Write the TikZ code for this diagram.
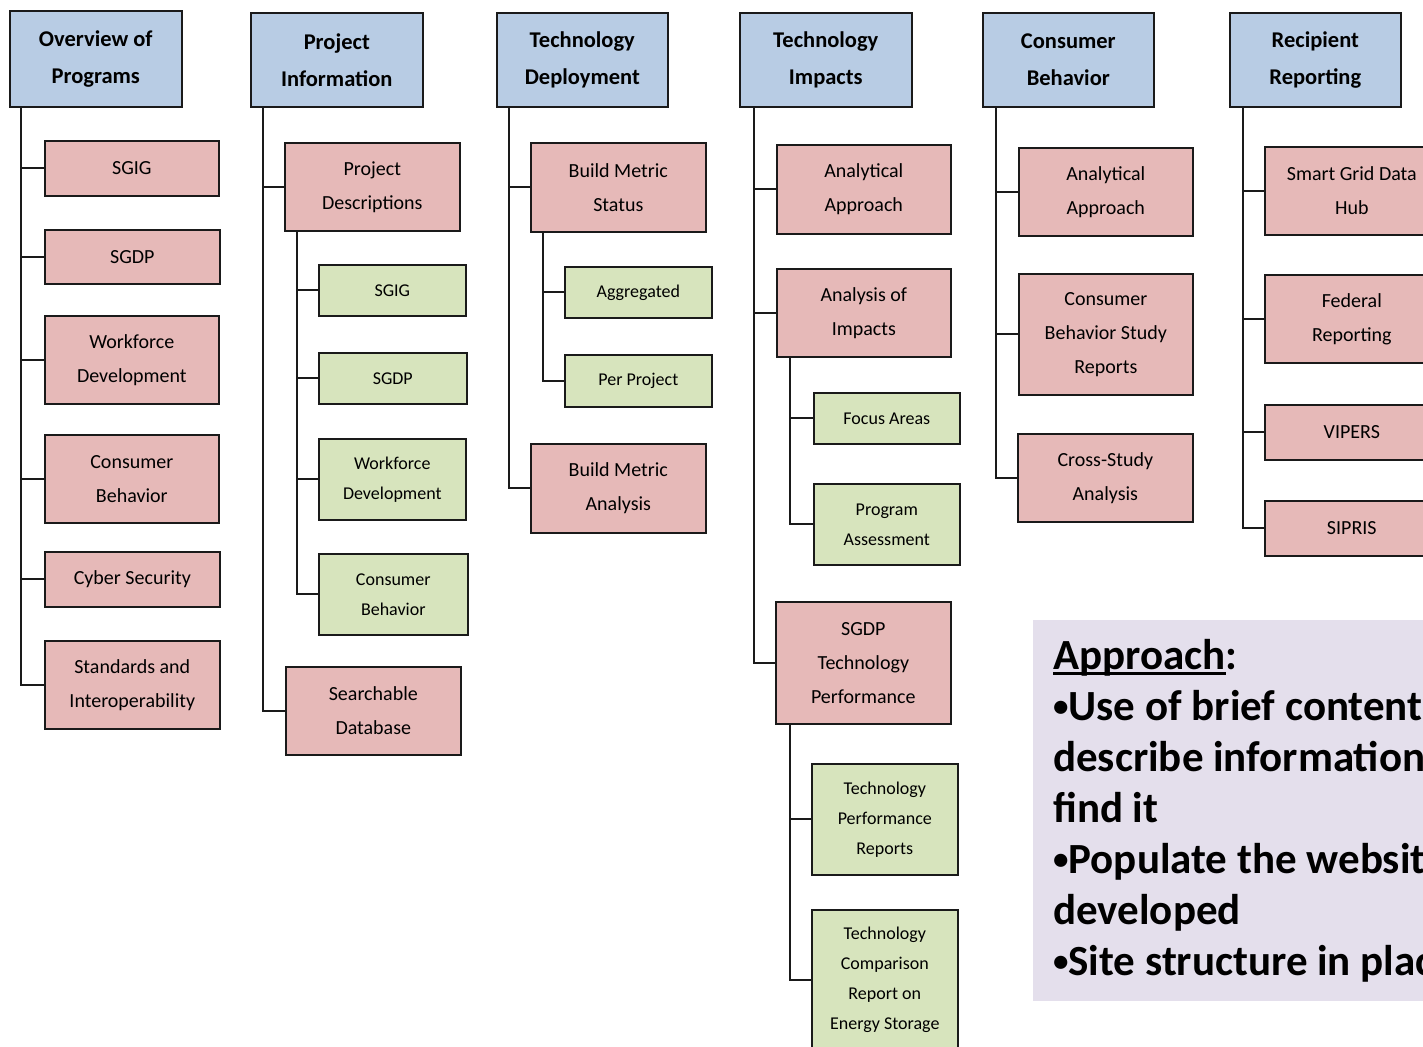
\documentclass[tikz,border=0pt]{standalone}
\usepackage{fontspec}
\setmainfont{Carlito}
\definecolor{hdrblue}{HTML}{B8CCE4}
\definecolor{pinkfill}{HTML}{E6B9B8}
\definecolor{greenfill}{HTML}{D7E4BD}
\definecolor{lavender}{HTML}{E4DFEC}
\definecolor{edge}{HTML}{1A1A1A}
% box: style, name, left x, top y, width, height, text
\newcommand\bx[7]{\node[#1,minimum width=#5pt,minimum height=#6pt] (#2) at (#3,#4) {#7};}
% underlined word with a fixed rule under the baseline
\newcommand\ulword[1]{\setbox0\hbox{#1}\rlap{\rule[-6pt]{\wd0}{3pt}}\box0}
% small bullet for the panel list
\newcommand\pbul{{\fontsize{31}{31}\selectfont\raisebox{4pt}{•}}}
\tikzset{
  box/.style={draw=edge, line width=1.6pt, anchor=north west, inner sep=0pt, align=center,
    font=\fontsize{20}{34}\selectfont},
  hdr/.style={box, fill=hdrblue, font=\bfseries\fontsize{22.5}{37}\selectfont},
  pbox/.style={box, fill=pinkfill},
  gbox/.style={box, fill=greenfill, font=\fontsize{18}{30}\selectfont},
  link/.style={draw=edge, line width=1.8pt},
  aptext/.style={anchor=base west, inner sep=0pt, font=\bfseries\fontsize{43}{51}\selectfont}
}
\begin{document}
\begin{tikzpicture}[x=1pt,y=-1pt]
\useasboundingbox (0,0) rectangle (1423,1046);
\clip (0,0) rectangle (1423,1046);

% Overview of Programs
\bx{hdr}{h1}{9}{10}{172}{96}{Overview of\\Programs}
\bx{pbox}{a1}{44}{140}{174}{55}{SGIG}
\bx{pbox}{a2}{44}{229}{175}{54}{SGDP}
\bx{pbox}{a3}{44}{315}{174}{88}{Workforce\\Development}
\bx{pbox}{a4}{44}{434}{174}{88}{Consumer\\Behavior}
\bx{pbox}{a5}{44}{551}{175}{55}{Cyber Security}
\bx{pbox}{a6}{44}{640}{175}{88}{Standards and\\Interoperability}
\foreach \c in {a1,a2,a3,a4,a5,a6}
  \draw[link] ([xshift=12pt]h1.south west) |- (\c.west);

% Project Information
\bx{hdr}{h2}{250}{12}{172}{94}{Project\\Information}
\bx{pbox}{b1}{284}{142}{175}{88}{Project\\Descriptions}
\bx{gbox}{b11}{318}{264}{147}{51}{SGIG}
\bx{gbox}{b12}{318}{352}{148}{51}{SGDP}
\bx{gbox}{b13}{318}{438}{147}{81}{Workforce\\Development}
\bx{gbox}{b14}{318}{553}{149}{81}{Consumer\\Behavior}
\bx{pbox}{b2}{285}{666}{175}{88}{Searchable\\Database}
\foreach \c in {b1,b2}
  \draw[link] ([xshift=13pt]h2.south west) |- (\c.west);
\foreach \c in {b11,b12,b13,b14}
  \draw[link] ([xshift=13pt]b1.south west) |- (\c.west);

% Technology Deployment
\bx{hdr}{h3}{496}{12}{171}{94}{Technology\\Deployment}
\bx{pbox}{c1}{530}{142}{175}{89}{Build Metric\\Status}
\bx{gbox}{c11}{564}{266}{147}{51}{Aggregated}
\bx{gbox}{c12}{564}{354}{147}{52}{Per Project}
\bx{pbox}{c2}{530}{443}{175}{89}{Build Metric\\Analysis}
\foreach \c in {c1,c2}
  \draw[link] ([xshift=13pt]h3.south west) |- (\c.west);
\foreach \c in {c11,c12}
  \draw[link] ([xshift=13pt]c1.south west) |- (\c.west);

% Technology Impacts
\bx{hdr}{h4}{739}{12}{172}{94}{Technology\\Impacts}
\bx{pbox}{d1}{776}{144}{174}{89}{Analytical\\Approach}
\bx{pbox}{d2}{776}{268}{174}{88}{Analysis of\\Impacts}
\bx{gbox}{d21}{813}{392}{146}{51}{Focus Areas}
\bx{gbox}{d22}{813}{483}{146}{81}{Program\\Assessment}
\bx{pbox}{d3}{775}{601}{175}{122}{SGDP\\Technology\\Performance}
\bx{gbox}{d31}{811}{763}{146}{111}{Technology\\Performance\\Reports}
\bx{gbox}{d32}{811}{909}{146}{140}{Technology\\Comparison\\Report on\\Energy Storage}
\foreach \c in {d1,d2,d3}
  \draw[link] ([xshift=15pt]h4.south west) |- (\c.west);
\foreach \c in {d21,d22}
  \draw[link] ([xshift=14pt]d2.south west) |- (\c.west);
\foreach \c in {d31,d32}
  \draw[link] ([xshift=15pt]d3.south west) |- (\c.west);

% Consumer Behavior
\bx{hdr}{h5}{982}{12}{171}{94}{Consumer\\Behavior}
\bx{pbox}{e1}{1018}{147}{174}{88}{Analytical\\Approach}
\bx{pbox}{e2}{1018}{273}{174}{121}{Consumer\\Behavior Study\\Reports}
\bx{pbox}{e3}{1017}{433}{175}{88}{Cross-Study\\Analysis}
\foreach \c in {e1,e2,e3}
  \draw[link] ([xshift=14pt]h5.south west) |- (\c.west);

% Recipient Reporting
\bx{hdr}{h6}{1229}{12}{171}{94}{Recipient\\Reporting}
\bx{pbox}{f1}{1264}{146}{174}{88}{Smart Grid Data\\Hub}
\bx{pbox}{f2}{1264}{274}{174}{88}{Federal\\Reporting}
\bx{pbox}{f3}{1264}{404}{174}{55}{VIPERS}
\bx{pbox}{f4}{1264}{500}{174}{55}{SIPRIS}
\foreach \c in {f1,f2,f3,f4}
  \draw[link] ([xshift=14pt]h6.south west) |- (\c.west);

% Approach panel
\node[fill=lavender, anchor=north west, inner sep=0pt, minimum width=420pt, minimum height=381pt] (panel) at (1033,620) {};
\node[aptext] (ap0) at (1053,669) {\ulword{Approach}:};
\node[aptext] (ap1) at (1053,720) {\pbul Use of brief content};
\node[aptext] (ap2) at (1053,771) {describe information};
\node[aptext] (ap3) at (1053,822) {find it};
\node[aptext] (ap4) at (1053,873) {\pbul Populate the website};
\node[aptext] (ap5) at (1053,924) {developed};
\node[aptext] (ap6) at (1053,975) {\pbul Site structure in place};
\end{tikzpicture}
\end{document}
